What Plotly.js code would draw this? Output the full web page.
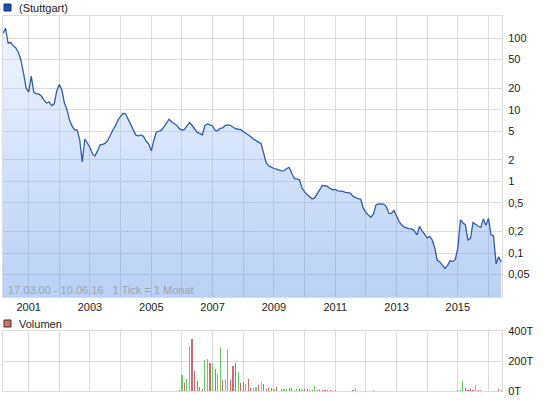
<!DOCTYPE html>
<html><head><meta charset="utf-8">
<script src="https://cdn.plot.ly/plotly-3.0.1.min.js"></script>
<style>html,body{margin:0;padding:0;background:#fff}#chart{width:545px;height:401px}</style>
</head><body><div id="chart"></div>
<script>
// ---- data (monthly, 1 Tick = 1 Monat) ----
const startYear = 2000, startMonth = 3;   // first month: March 2000
const kurs = [
115.6,136.5,85.2,86.5,78.3,72.6,62.8,48.6,32.0,20.1,
17.7,29.5,17.7,16.6,16.6,15.5,13.7,12.4,12.8,11.4,
12.0,18.2,22.5,18.8,12.6,10.1,7.30,5.93,5.21,5.21,
3.78,1.86,3.90,3.38,2.97,2.41,2.26,2.66,3.22,3.27,
3.38,3.72,4.51,5.21,5.93,7.18,8.04,8.91,8.71,7.30,
6.42,5.21,4.41,4.30,4.44,4.23,3.60,3.32,2.66,3.78,
4.84,5.00,5.13,5.74,6.63,7.35,6.74,6.40,6.02,5.43,
5.21,5.29,5.93,6.63,6.06,5.29,4.81,4.66,4.44,6.02,
6.32,6.12,5.93,5.13,5.08,5.47,5.56,6.02,6.12,6.06,
5.78,5.42,5.33,5.29,4.97,4.73,4.50,4.19,3.90,3.66,
3.52,3.35,2.41,1.81,1.64,1.57,1.51,1.48,1.45,1.40,
1.41,1.51,1.56,1.29,1.09,1.08,1.05,0.809,0.711,0.656,
0.606,0.568,0.587,0.667,0.784,0.877,0.868,0.849,0.796,0.764,
0.771,0.735,0.731,0.726,0.703,0.696,0.685,0.616,0.587,0.572,
0.563,0.426,0.366,0.340,0.314,0.351,0.469,0.484,0.481,0.481,
0.442,0.357,0.357,0.393,0.329,0.274,0.247,0.231,0.224,0.217,
0.217,0.203,0.179,0.235,0.203,0.179,0.162,0.170,0.152,0.118,
0.0791,0.0751,0.0682,0.0610,0.0671,0.0783,0.0759,0.0814,0.118,0.291,
0.265,0.247,0.152,0.160,0.267,0.250,0.236,0.228,0.299,0.243,
0.304,0.179,0.173,0.0705,0.0883,0.0751
];
// volume in thousands (T), starting at month index 69 (Dec 2005)
const volStart = 69;
const volumen = [
4,106,52,79,303,350,133,66,25,16,
208,215,190,188,147,115,296,72,79,276,
72,167,188,127,52,59,45,79,18,18,
25,38,66,45,11,18,18,11,25,3,
11,11,11,18,18,4,11,11,4,11,
11,4,4,32,4,11,4,4,4,4,
3,4,3,3,2,3,3,3,4,20,
3,3,3,2,3,3,4,3,3,3,
2,3,3,3,3,3,3,2,3,3,
3,3,3,3,3,3,3,3,3,3,
3,3,3,3,3,3,3,3,3,5,
8,64,23,4,16,4,41,7,4,3,
3,3,3,3,3,14,4
];
// g = up month, r = down month, n = unchanged
const volFarbe = (
"rgrggrrrrr" + "ggrgrggrgg" + "rrrgrrgrrg" + "grnrrrrgrr" + "rggrrggrgr" + "rrrgrgrrrr" +
"rrgrrrrrrg" + "rrrrrgggrr" + "rrrgrrrrrr" + "rrrrgrrrrr" + "rrrrrggrgg" + "ggrrrrgrrr" + "rrrrrrr"
).split("");
const yTickVals = [0.05,0.1,0.2,0.5,1,2,5,10,20,50,100];
const yTickText = ["0,05","0,1","0,2","0,5","1","2","5","10","20","50","100"];
const jahre = [2001,2002,2003,2004,2005,2006,2007,2008,2009,2010,2011,2012,2013,2014,2015,2016];
const jahrLabels = jahre.map(j => (j % 2 === 1 ? String(j) : ""));
const volTickVals = [0,200,400];
const volTickText = ["0T","200T","400T"];
const zeitraum = "17.03.00 - 10.06.16\u00a0\u00a0\u00a01 Tick = 1 Monat";

// ---- build dates ----
function monthDate(i){
  const m0 = startMonth - 1 + i;
  const y = startYear + Math.floor(m0/12);
  const m = (m0 % 12) + 1;
  return y + "-" + (m<10?"0":"") + m + "-01";
}
const dates = kurs.map((_, i) => monthDate(i));
const volDates = volumen.map((_, i) => monthDate(volStart + i));
const farbMap = {g:"#5dd65d", r:"#e06464", n:"#b8b8b8"};
const volColors = volFarbe.map(f => farbMap[f]);

// ---- layout geometry ----
const W=545,H=401,L=3,R=43,T=16,B=10;
const pw=W-L-R, ph=H-T-B;
const fx = p => (p-L)/pw;
const fy = p => (H-B-p)/ph;
const font = {family:"Liberation Sans, Arial, sans-serif", size:11, color:"#222"};
const grid = "#dcdcdc";
const xRange = ["2000-03-01","2016-06-10"];

const traces = [
  {type:"scatter", mode:"lines", x:dates, y:kurs, xaxis:"x", yaxis:"y",
   line:{color:"#2b5cb8", width:1.3},
   fill:"tozeroy",
   fillgradient:{type:"vertical", start:0.025, stop:200,
     colorscale:[[0,"rgba(64,126,229,0.36)"],[1,"rgba(225,236,255,0.4)"]]},
   hoverinfo:"skip", showlegend:false},
  {type:"bar", x:volDates, y:volumen, xaxis:"x2", yaxis:"y2",
   marker:{color:volColors, line:{width:0}}, width:1.2e9,
   hoverinfo:"skip", showlegend:false}
];

const layout = {
  width:W, height:H, margin:{l:L, r:R, t:T, b:B, pad:0},
  paper_bgcolor:"#fff", plot_bgcolor:"#fff", font:font, showlegend:false,
  xaxis:{type:"date", range:xRange, domain:[0,1], anchor:"y",
    tickmode:"array", tickvals:jahre.map(j=>j+"-01-01"), ticktext:jahrLabels,
    showgrid:true, gridcolor:grid, gridwidth:1, ticks:"", tickfont:font,
    showline:true, mirror:true, linecolor:grid, zeroline:false, fixedrange:true},
  yaxis:{type:"log", range:[-1.614, 2.307], domain:[fy(297),1], side:"right", anchor:"x",
    tickmode:"array", tickvals:yTickVals, ticktext:yTickText,
    showgrid:true, gridcolor:grid, ticks:"", tickfont:font, ticklabelstandoff:3,
    showline:true, mirror:true, linecolor:grid, zeroline:false},
  xaxis2:{type:"date", range:xRange, domain:[0,1], anchor:"y2",
    tickmode:"array", tickvals:jahre.map(j=>j+"-01-01"), showticklabels:false,
    showgrid:true, gridcolor:grid, ticks:"",
    showline:true, mirror:true, linecolor:grid, zeroline:false},
  yaxis2:{range:[0,400], domain:[0,fy(331)], side:"right", anchor:"x2",
    tickmode:"array", tickvals:volTickVals, ticktext:volTickText,
    showgrid:true, gridcolor:grid, ticks:"", tickfont:font, ticklabelstandoff:3,
    showline:true, mirror:true, linecolor:grid, zeroline:false},
  bargap:0,
  shapes:[
    {type:"rect", xref:"paper", yref:"paper", x0:fx(4), x1:fx(11), y0:fy(11), y1:fy(4),
     fillcolor:"#1f4fb0", line:{color:"#17326e", width:1}},
    {type:"rect", xref:"paper", yref:"paper", x0:fx(4), x1:fx(11), y0:fy(327), y1:fy(320),
     fillcolor:"#e06a6a", line:{color:"#333", width:1}}
  ],
  annotations:[
    {xref:"paper", yref:"paper", x:fx(17), y:fy(7.5), xanchor:"left", yanchor:"middle",
     text:"(Stuttgart)", showarrow:false, font:font},
    {xref:"paper", yref:"paper", x:fx(17), y:fy(323.5), xanchor:"left", yanchor:"middle",
     text:"Volumen", showarrow:false, font:font},
    {xref:"paper", yref:"paper", x:fx(6), y:fy(289.5), xanchor:"left", yanchor:"middle",
     text:zeitraum, showarrow:false,
     font:{family:"Liberation Sans, Arial, sans-serif", size:11, color:"#9aa3ae"}}
  ]
};
Plotly.newPlot("chart", traces, layout, {staticPlot:true, displayModeBar:false});
</script></body></html>
